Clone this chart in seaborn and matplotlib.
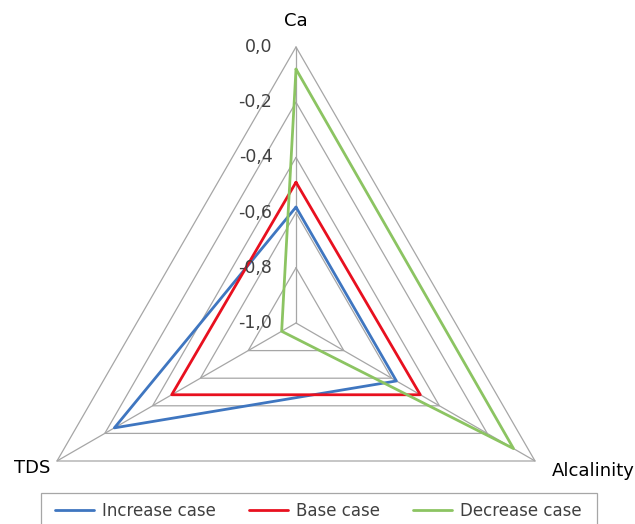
import numpy as np
import matplotlib
matplotlib.use("Agg")
import matplotlib.pyplot as plt
from matplotlib.patches import Rectangle
import seaborn as sns

categories = ["Ca", "Alcalinity", "TDS"]
series_names = ["Increase case", "Base case", "Decrease case"]
increase_case = [-0.58, -0.58, -0.24]
base_case = [-0.49, -0.48, -0.48]
decrease_case = [-0.08, -0.09, -0.94]
tick_values = [0.0, -0.2, -0.4, -0.6, -0.8, -1.0]
tick_labels = ["0,0", "-0,2", "-0,4", "-0,6", "-0,8", "-1,0"]
colors = ["#3F76C0", "#E8101F", "#8CC462"]

sns.set_theme(style="white")
plt.rcParams["font.family"] = ["DejaVu Sans"]

fig = plt.figure(figsize=(6.35, 5.24), dpi=100)
ax = fig.add_axes([20 / 635, -75 / 524, 552 / 635, 552 / 524], projection="polar")
ax.set_theta_offset(np.pi / 2)
ax.set_theta_direction(-1)
ax.set_ylim(-1.0, 0.0)
ax.grid(False)
ax.spines["polar"].set_visible(False)
ax.set_xticks([])
ax.set_yticks([])
ax.patch.set_alpha(0)

n = len(categories)
angles = [2 * np.pi * i / n for i in range(n)]
closed = angles + angles[:1]

grid_color = "#A6A6A6"
for lv in tick_values[:-1]:
    ax.plot(closed, [lv] * (n + 1), color=grid_color, lw=0.9, zorder=1, clip_on=False)
for a in angles:
    ax.plot([a, a], [-1.0, 0.0], color=grid_color, lw=0.9, zorder=1, clip_on=False)

for name, vals, c in zip(series_names, [increase_case, base_case, decrease_case], colors):
    ax.plot(closed, list(vals) + vals[:1], color=c, lw=2.0, label=name, zorder=3, clip_on=False)

for v, lab in zip(tick_values, tick_labels):
    ax.annotate(lab, xy=(0, v), xytext=(-17, 0), textcoords="offset points",
                ha="right", va="center", fontsize=12.5, color="#404040")

ax.annotate(categories[0], xy=(angles[0], 0.0), xytext=(0, 19), textcoords="offset points",
            ha="center", va="center", fontsize=13, color="black")
ax.annotate(categories[1], xy=(angles[1], 0.0), xytext=(12, -7), textcoords="offset points",
            ha="left", va="center", fontsize=13, color="black")
ax.annotate(categories[2], xy=(angles[2], 0.0), xytext=(-18, -5), textcoords="offset points",
            ha="center", va="center", fontsize=13, color="black")

leg = fig.legend(loc="center", bbox_to_anchor=(318.5 / 635, 13 / 524),
                 ncol=3, frameon=False, fontsize=12, handlelength=2.3,
                 handletextpad=0.5, columnspacing=2.0, borderpad=0.0, borderaxespad=0.0,
                 labelcolor="#404040")
fig.patches.append(Rectangle((41 / 635, -10 / 524), 556 / 635, 41 / 524,
                             transform=fig.transFigure, fill=False,
                             edgecolor="#A6A6A6", linewidth=0.9, zorder=5))

fig.savefig("out.png", dpi=100)
